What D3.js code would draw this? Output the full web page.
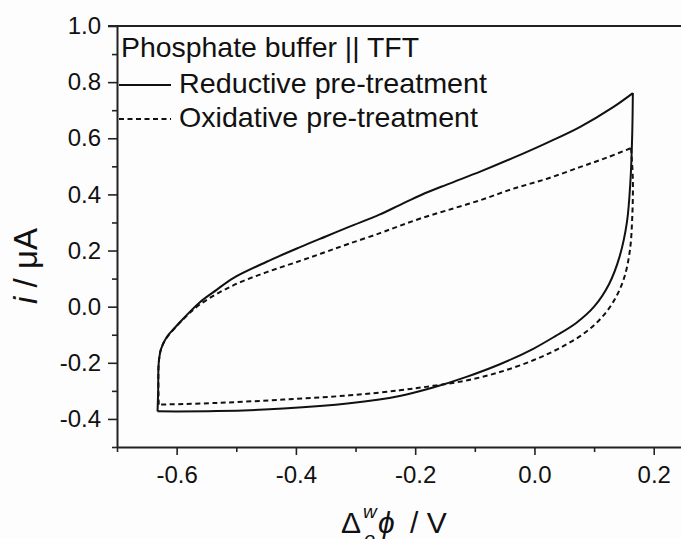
<!DOCTYPE html>
<html>
<head>
<meta charset="utf-8">
<script src="https://cdn.jsdelivr.net/npm/d3@7"></script>
<style>
	body { margin: 0; background: #fdfdfd; }
	svg { display: block; font-family: 'Liberation Sans', Arial, sans-serif; }
</style>
</head>
<body>
<svg></svg>
<script>
// Cyclic voltammograms, phosphate buffer || TFT, two pre-treatments
// Values (potential in V, current in µA)

// Reductive pre-treatment (solid) - forward scan (upper branch)
const reductiveFwdX = [
	-0.632, -0.631, -0.630, -0.626, -0.617, -0.603, -0.589, -0.561, -0.533, -0.505,
	-0.449, -0.393, -0.350, -0.310, -0.260, -0.226, -0.190, -0.147, -0.090,
	-0.036, 0.020, 0.076, 0.132, 0.165
];
const reductiveFwdY = [
	-0.373, -0.300, -0.200, -0.150, -0.110, -0.075, -0.043, 0.016, 0.060, 0.102,
	0.160, 0.212, 0.250, 0.285, 0.328, 0.362, 0.398, 0.435, 0.482,
	0.530, 0.583, 0.640, 0.711, 0.761
];
// backward scan (lower branch)
const reductiveBwdX = [
	0.165, 0.164, 0.161, 0.155, 0.143, 0.125, 0.100, 0.070, 0.035, -0.002, -0.058,
	-0.114, -0.170, -0.226, -0.310, -0.421, -0.533, -0.632
];
const reductiveBwdY = [
	0.761, 0.620, 0.450, 0.300, 0.180, 0.080, 0.000, -0.058, -0.105, -0.150, -0.205,
	-0.250, -0.288, -0.318, -0.344, -0.363, -0.372, -0.373
];

// Oxidative pre-treatment (dashed) - forward scan
const oxidativeFwdX = [
	-0.630, -0.630, -0.626, -0.617, -0.589, -0.561, -0.505, -0.449, -0.393, -0.350,
	-0.310, -0.259, -0.226, -0.190, -0.147, -0.090, -0.036, 0.020, 0.076, 0.120, 0.162
];
const oxidativeFwdY = [
	-0.349, -0.200, -0.150, -0.112, -0.045, 0.008, 0.076, 0.123, 0.163, 0.195,
	0.225, 0.262, 0.288, 0.315, 0.343, 0.380, 0.420, 0.455, 0.497, 0.530, 0.565
];
// backward scan
const oxidativeBwdX = [
	0.162, 0.165, 0.164, 0.160, 0.150, 0.133, 0.110, 0.080, 0.040, -0.002, -0.058,
	-0.114, -0.170, -0.226, -0.310, -0.421, -0.533, -0.630
];
const oxidativeBwdY = [
	0.565, 0.450, 0.320, 0.200, 0.100, 0.020, -0.045, -0.100, -0.150, -0.191, -0.233,
	-0.263, -0.282, -0.298, -0.316, -0.331, -0.343, -0.349
];

const xMajor = [-0.6, -0.4, -0.2, 0.0, 0.2];
const xMinor = [-0.7, -0.5, -0.3, -0.1, 0.1, 0.3];
const yMajor = [-0.4, -0.2, 0.0, 0.2, 0.4, 0.6, 0.8, 1.0];
const yMinor = [-0.5, -0.3, -0.1, 0.1, 0.3, 0.5, 0.7, 0.9];

const legendTitle = 'Phosphate buffer || TFT';
const legendLabels = ['Reductive pre-treatment', 'Oxidative pre-treatment'];

const width = 681;
const height = 539;

const svg = d3.select('svg').attr('width', width).attr('height', height);

// Scales - right edge of the frame is cut off in the original
const x = d3.scaleLinear().domain([-0.7, 0.4]).range([117, 773]);
const y = d3.scaleLinear().domain([-0.5, 1.0]).range([447, 26]);

const axisColor = '#222';

// Bottom axis
const xAxis = svg.append('g').attr('transform', `translate(0,${y(-0.5)})`);
xAxis.call(d3.axisBottom(x).tickValues(xMajor).tickSize(8).tickSizeOuter(0)
	.tickFormat(d3.format('.1f')));
xAxis.append('g').call(d3.axisBottom(x).tickValues(xMinor).tickSize(5).tickFormat(''))
	.select('.domain').remove();

// Left axis
const yAxis = svg.append('g').attr('transform', `translate(${x(-0.7)},0)`);
yAxis.call(d3.axisLeft(y).tickValues(yMajor).tickSize(9).tickSizeOuter(0)
	.tickFormat(d3.format('.1f')));
yAxis.append('g').call(d3.axisLeft(y).tickValues(yMinor).tickSize(5).tickFormat(''))
	.select('.domain').remove();

svg.selectAll('.domain').attr('stroke', axisColor).attr('stroke-width', 2);
svg.selectAll('.tick line').attr('stroke', axisColor).attr('stroke-width', 1.6);
svg.selectAll('.tick text')
	.attr('fill', '#111')
	.style('font-size', '24px')
	.style('font-family', "'Liberation Sans', Arial, sans-serif");
xAxis.selectAll('.tick text').attr('dy', '1.05em');
yAxis.selectAll('.tick text').attr('x', -16);
// d3 uses a real minus sign, the original has a plain hyphen
svg.selectAll('.tick text').text(function () {
	return d3.select(this).text().replace('\u2212', '-');
});

// Top frame line
svg.append('line')
	.attr('x1', x(-0.7) - 9).attr('x2', width)
	.attr('y1', y(1.0)).attr('y2', y(1.0))
	.attr('stroke', axisColor).attr('stroke-width', 2);

// Curves - each scan branch drawn on its own so the vertices stay sharp
const line = d3.line()
	.x((d) => x(d[0]))
	.y((d) => y(d[1]))
	.curve(d3.curveCatmullRom.alpha(0.5));
const zip = (xs, ys) => xs.map((v, i) => [v, ys[i]]);

const curves = [
	{ pts: zip(oxidativeFwdX, oxidativeFwdY), dash: '5,3.5' },
	{ pts: zip(oxidativeBwdX, oxidativeBwdY), dash: '5,3.5' },
	{ pts: zip(reductiveFwdX, reductiveFwdY), dash: null },
	{ pts: zip(reductiveBwdX, reductiveBwdY), dash: null },
];

svg.append('g')
	.selectAll('path')
	.data(curves)
	.join('path')
	.attr('d', (d) => line(d.pts))
	.attr('fill', 'none')
	.attr('stroke', '#111')
	.attr('stroke-width', 2)
	.attr('stroke-linejoin', 'miter')
	.attr('stroke-dasharray', (d) => d.dash);

// Legend
const legend = svg.append('g').style('font-size', '28px').attr('fill', '#111');
legend.append('text').attr('x', 121).attr('y', 57)
	.attr('textLength', 298).attr('lengthAdjust', 'spacingAndGlyphs')
	.text(legendTitle);

const legendWidths = [308, 299];
legendLabels.forEach((label, i) => {
	const ly = 85 + i * 34;
	legend.append('line')
		.attr('x1', 119).attr('x2', 171)
		.attr('y1', ly).attr('y2', ly)
		.attr('stroke', '#111').attr('stroke-width', 2)
		.attr('stroke-dasharray', i === 1 ? '5,3.5' : null);
	legend.append('text').attr('x', 179).attr('y', ly + 8)
		.attr('textLength', legendWidths[i]).attr('lengthAdjust', 'spacingAndGlyphs')
		.text(label);
});

// Axis titles
const yTitle = svg.append('text')
	.attr('transform', 'translate(37,266) rotate(-90)')
	.attr('text-anchor', 'middle')
	.attr('fill', '#111')
	.style('font-size', '33px');
yTitle.append('tspan').style('font-style', 'italic').text('i');
yTitle.append('tspan').text(' / \u03bcA');

// x title: subscript o is partly cut by the bottom edge, as in the original
const xTitle = svg.append('g').attr('fill', '#111');
xTitle.append('text').attr('x', 341).attr('y', 533).style('font-size', '30px').text('\u0394');
xTitle.append('text').attr('x', 363).attr('y', 518).style('font-size', '19px').style('font-style', 'italic').text('w');
xTitle.append('text').attr('x', 364).attr('y', 546).style('font-size', '20px').style('font-style', 'italic').text('o');
xTitle.append('text').attr('x', 378).attr('y', 533).style('font-size', '30px').style('font-style', 'italic').text('\u03d5');
xTitle.append('text').attr('x', 410).attr('y', 533).style('font-size', '30px').text(' / V');
</script>
</body>
</html>
